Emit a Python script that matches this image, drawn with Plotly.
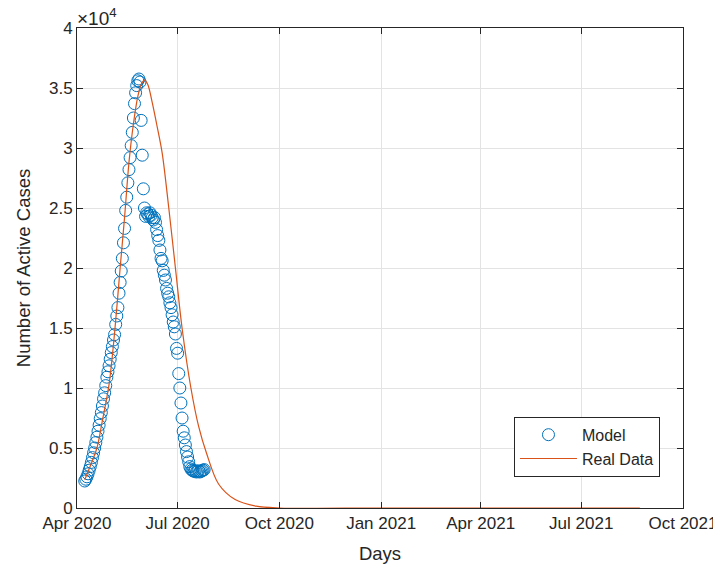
import pandas as pd
import plotly.graph_objects as go

# Model (circles): daily values starting 2020-04-08
model_start = "2020-04-08"
model_values = [
    2250, 2400, 2600, 2850, 3150, 3450, 3800, 4200, 4600, 5000,
    5450, 5900, 6400, 6900, 7450, 7950, 8500, 9100, 9600, 10200,
    10900, 11350, 11850, 12400, 12950, 13450, 14000, 14450, 15300, 16000,
    16700, 17900, 18800, 19750, 20800, 22100, 23300, 24800, 25900, 27100,
    28200, 29200, 30200, 31300, 32500, 33700, 34600, 35200, 35600, 35750,
    35500, 32300, 29400, 26600, 25000, 24300, 24600, 24500, 24300, 24600,
    24400, 24200, 24000, 24200, 23800, 23200, 22700, 22300, 21500, 20800,
    20600, 19800, 19400, 19000, 18300, 17900, 17600, 17100, 16700, 16100,
    15500, 15100, 14500, 13300, 12900, 11200, 10000, 8750, 7500, 6400,
    5850, 5250, 4700, 4250, 3850, 3450, 3250, 3150, 3100, 3050,
    3100, 3000, 3050, 3100, 3000, 3050, 3100, 3150, 3200,
]
model_dates = pd.date_range(model_start, periods=len(model_values), freq="D")

# Real Data (line)
real_dates = [
    "2020-04-08", "2020-04-13", "2020-04-19", "2020-04-24", "2020-04-30",
    "2020-05-05", "2020-05-10", "2020-05-14", "2020-05-18", "2020-05-22",
    "2020-05-26", "2020-05-29", "2020-06-01", "2020-06-04", "2020-06-08",
    "2020-06-12", "2020-06-17", "2020-06-23", "2020-06-29", "2020-07-05",
    "2020-07-13", "2020-07-20", "2020-07-27", "2020-08-07", "2020-08-22",
    "2020-09-10", "2020-10-01", "2021-01-01", "2021-05-01", "2021-08-23",
]
real_values = [
    2350, 3500, 5000, 7300, 10300,
    14600, 20000, 24200, 28800, 32000,
    34300, 35300, 35650, 35300, 33800,
    32000, 29600, 25000, 20000, 15000,
    10000, 6800, 4600, 2000, 700,
    150, 0, 0, 0, 0,
]

x_tickvals = ["2020-04-01", "2020-07-01", "2020-10-01", "2021-01-01",
              "2021-04-01", "2021-07-01", "2021-10-01"]
x_ticktext = ["Apr 2020", "Jul 2020", "Oct 2020", "Jan 2021",
              "Apr 2021", "Jul 2021", "Oct 2021"]
y_tickvals = [0, 5000, 10000, 15000, 20000, 25000, 30000, 35000, 40000]
y_ticktext = ["0", "0.5", "1", "1.5", "2", "2.5", "3", "3.5", "4"]

BLUE = "#0072BD"
ORANGE = "#D95319"
AX = "#262626"
FONT = "Liberation Sans, Arial, sans-serif"

fig = go.Figure()
fig.add_trace(go.Scatter(
    x=model_dates, y=model_values, mode="markers", name="Model",
    marker=dict(symbol="circle-open", size=12, color=BLUE,
                line=dict(width=1, color=BLUE)),
))
fig.add_trace(go.Scatter(
    x=real_dates, y=real_values, mode="lines", name="Real Data",
    line=dict(color=ORANGE, width=1.2, shape="spline", smoothing=0.9),
))

axis_common = dict(
    showline=True, linecolor=AX, linewidth=1, mirror="ticks",
    ticks="inside", ticklen=6, tickcolor=AX, tickwidth=1,
    showgrid=True, gridcolor="#e3e3e3", gridwidth=1, zeroline=False,
    tickfont=dict(family=FONT, size=17, color=AX),
    automargin=False,
)

fig.update_xaxes(
    range=["2020-04-01", "2021-10-01"], tickvals=x_tickvals, ticktext=x_ticktext,
    title=dict(text="Days", font=dict(family=FONT, size=18.5, color=AX), standoff=14),
    **axis_common,
)
fig.update_yaxes(
    range=[0, 40000], tickvals=y_tickvals, ticktext=y_ticktext,
    title=dict(text="Number of Active Cases", font=dict(family=FONT, size=18.5, color=AX), standoff=13),
    **axis_common,
)

fig.add_annotation(
    xref="paper", yref="paper", x=0, y=1, xanchor="left", yanchor="bottom",
    text="×10<sup>4</sup>", showarrow=False,
    font=dict(family=FONT, size=19, color=AX), xshift=-2, yshift=-3,
)

# page body has an 8px default margin, so the figure is sized to fit the window
fig.update_layout(
    width=713, height=565,
    margin=dict(l=69, r=38, t=20, b=65),
    paper_bgcolor="white", plot_bgcolor="white",
    font=dict(family=FONT, size=17, color=AX),
    legend=dict(
        x=0.962, y=0.065, xanchor="right", yanchor="bottom",
        bgcolor="white", bordercolor=AX, borderwidth=1,
        font=dict(family=FONT, size=16, color=AX),
        itemwidth=57, tracegroupgap=0,
    ),
)

fig.write_html("out.html")
